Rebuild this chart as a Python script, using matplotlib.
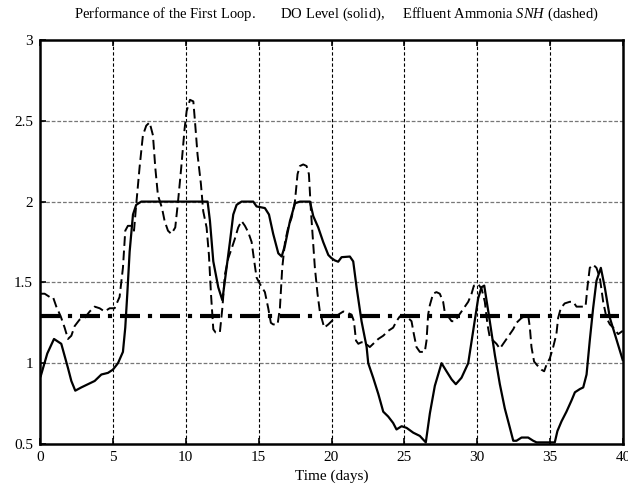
import matplotlib
matplotlib.use("Agg")
import matplotlib.pyplot as plt

plt.rcParams['font.family'] = ['Liberation Serif', 'DejaVu Serif']
plt.rcParams['mathtext.fontset'] = 'custom'
plt.rcParams['mathtext.rm'] = 'Liberation Serif'
plt.rcParams['mathtext.it'] = 'Liberation Serif:italic'

# DO level (solid)
do_t = [0.05, 0.5, 0.96, 1.46, 1.92, 2.15, 2.42, 2.83, 3.29, 3.75, 4.21, 4.66, 5.0, 5.35,
        5.69, 5.85, 5.99, 6.15, 6.38, 6.6, 6.95, 11.5, 11.66, 11.89, 12.23, 12.51, 12.8,
        13.03, 13.26, 13.49, 13.83, 14.63, 14.86, 15.43, 15.71, 16.0, 16.35, 16.58, 16.81,
        17.15, 17.5, 17.84, 18.52, 18.75, 19.09, 19.43, 19.78, 20.0, 20.23, 20.46, 20.69,
        21.26, 21.49, 21.72, 22.06, 22.41, 22.52, 22.86, 23.21, 23.55, 23.89, 24.23, 24.46,
        24.81, 25.15, 25.61, 26.06, 26.47, 26.75, 27.09, 27.55, 27.89, 28.24, 28.53, 28.92,
        29.38, 29.72, 30.06, 30.29, 30.48, 30.86, 31.21, 31.55, 31.89, 32.24, 32.47, 32.69,
        33.04, 33.49, 33.84, 34.07, 34.98, 35.32, 35.5, 35.78, 36.12, 36.47, 36.7, 37.04,
        37.27, 37.5, 37.72, 37.95, 38.18, 38.48, 38.75, 39.1, 39.44, 39.71, 39.98]
do_v = [0.92, 1.06, 1.15, 1.12, 0.97, 0.89, 0.83, 0.85, 0.87, 0.89, 0.93, 0.94, 0.96, 1.0,
        1.07, 1.22, 1.43, 1.69, 1.92, 1.98, 2.0, 2.0, 1.88, 1.63, 1.47, 1.39, 1.59,
        1.75, 1.92, 1.98, 2.0, 2.0, 1.97, 1.96, 1.92, 1.80, 1.68, 1.66, 1.73,
        1.88, 1.99, 2.0, 2.0, 1.91, 1.84, 1.75, 1.67, 1.65, 1.636, 1.628, 1.656,
        1.66, 1.63, 1.47, 1.26, 1.10, 1.0, 0.91, 0.81, 0.70, 0.67, 0.63, 0.59,
        0.61, 0.60, 0.57, 0.55, 0.51, 0.69, 0.86, 1.0, 0.95, 0.90, 0.87, 0.91,
        1.0, 1.20, 1.40, 1.47, 1.48, 1.26, 1.05, 0.87, 0.72, 0.60, 0.52, 0.52,
        0.54, 0.54, 0.52, 0.51, 0.51, 0.51, 0.58, 0.64, 0.70, 0.77, 0.82, 0.84,
        0.85, 0.93, 1.14, 1.34, 1.51, 1.59, 1.47, 1.28, 1.18, 1.10, 1.02]

# Effluent ammonia SNH (dashed)
snh_t = [0.05, 0.32, 0.66, 0.89, 1.12, 1.42, 1.69, 1.92, 2.15, 2.38, 2.72, 3.06, 3.41, 3.75,
         4.09, 4.43, 4.78, 5.12, 5.46, 5.69, 5.85, 6.03, 6.26, 6.45, 6.6, 6.83, 7.06, 7.29,
         7.52, 7.75, 7.91, 8.09, 8.37, 8.55, 8.78, 9.01, 9.28, 9.47, 9.69, 9.92, 10.06,
         10.29, 10.52, 10.63, 10.81, 11.04, 11.2, 11.43, 11.59, 11.73, 11.89, 12.05, 12.34,
         12.51, 12.69, 12.92, 13.15, 13.37, 13.6, 13.83, 14.06, 14.29, 14.52, 14.7, 14.86,
         15.09, 15.43, 15.66, 15.84, 16.0, 16.3, 16.46, 16.62, 16.81, 17.03, 17.26, 17.49,
         17.67, 17.83, 18.06, 18.29, 18.45, 18.59, 18.7, 18.86, 19.04, 19.2, 19.5, 19.78,
         20.12, 20.46, 20.81, 21.15, 21.38, 21.54, 21.68, 21.84, 22.06, 22.36, 22.63, 22.86,
         23.21, 23.55, 23.89, 24.23, 24.46, 24.69, 24.92, 25.26, 25.49, 25.65, 25.83, 26.06,
         26.4, 26.52, 26.63, 26.75, 26.97, 27.2, 27.43, 27.66, 27.78, 28.0, 28.24, 28.47,
         28.69, 28.92, 29.15, 29.38, 29.61, 29.77, 30.06, 30.3, 30.52, 30.7, 30.86, 31.09,
         31.32, 31.55, 31.78, 32.01, 32.24, 32.47, 32.69, 33.04, 33.26, 33.49, 33.61, 33.72,
         33.9, 34.18, 34.4, 34.59, 34.75, 34.98, 35.21, 35.43, 35.55, 35.73, 36.0, 36.35,
         36.58, 36.81, 37.15, 37.43, 37.56, 37.72, 37.95, 38.18, 38.41, 38.64, 38.87, 39.1,
         39.33, 39.67, 39.98]
snh_v = [1.43, 1.43, 1.41, 1.41, 1.35, 1.29, 1.22, 1.15, 1.17, 1.23, 1.27, 1.28, 1.32, 1.35,
         1.34, 1.32, 1.34, 1.34, 1.41, 1.59, 1.82, 1.85, 1.85, 1.82, 1.98, 2.21, 2.41, 2.47,
         2.49, 2.41, 2.21, 2.04, 1.96, 1.88, 1.82, 1.80, 1.84, 2.0, 2.21, 2.45, 2.56,
         2.63, 2.62, 2.50, 2.29, 2.11, 1.94, 1.84, 1.67, 1.43, 1.21, 1.19, 1.19,
         1.34, 1.55, 1.65, 1.71, 1.77, 1.84, 1.88, 1.85, 1.81, 1.75, 1.63, 1.53,
         1.49, 1.44, 1.34, 1.25, 1.24, 1.24, 1.34, 1.59, 1.75, 1.84, 1.90, 2.0,
         2.17, 2.22, 2.23, 2.22, 2.17, 1.94, 1.80, 1.59, 1.43, 1.32, 1.22, 1.24,
         1.27, 1.30, 1.32, 1.31, 1.30, 1.26, 1.14, 1.12, 1.13, 1.12, 1.10, 1.12,
         1.15, 1.17, 1.20, 1.22, 1.26, 1.29, 1.29, 1.28, 1.26, 1.18, 1.10, 1.07,
         1.07, 1.14, 1.30, 1.36, 1.43, 1.44, 1.43, 1.38, 1.31, 1.29, 1.26, 1.26,
         1.29, 1.32, 1.35, 1.38, 1.43, 1.48, 1.49, 1.46, 1.38, 1.24, 1.16, 1.14,
         1.12, 1.09, 1.12, 1.15, 1.18, 1.21, 1.25, 1.28, 1.29, 1.30, 1.22, 1.10,
         1.01, 0.98, 0.96, 0.95, 0.99, 1.03, 1.10, 1.18, 1.28, 1.34, 1.37, 1.38,
         1.38, 1.35, 1.35, 1.35, 1.47, 1.59, 1.61, 1.59, 1.53, 1.38, 1.28, 1.24,
         1.22, 1.18, 1.20]

# Setpoint (dash-dot)
sp_t = [0.0, 39.7]
sp_v = [1.29, 1.29]

x_ticks = [0, 5, 10, 15, 20, 25, 30, 35, 40]
x_labels = ['0', '5', '10', '15', '20', '25', '30', '35', '40']
y_ticks = [0.5, 1, 1.5, 2, 2.5, 3]
y_labels = ['0.5', '1', '1.5', '2', '2.5', '3']

fig = plt.figure(figsize=(6.28, 4.88), dpi=100)
ax = fig.add_axes([40/628, 1 - 444/488, 583/628, 404/488])

ax.set_xlim(0, 40)
ax.set_ylim(0.5, 3)

for xv in x_ticks[1:-1]:
    ax.axvline(xv, color='black', lw=0.8, dashes=(3, 2), zorder=1)
for yv in y_ticks[1:-1]:
    ax.axhline(yv, color='#777777', lw=0.9, dashes=(3, 1.5), zorder=1)

ax.plot(sp_t, sp_v, color='black', lw=3, dashes=(4.8, 1.9, 1.0, 1.9), zorder=2)
ax.plot(snh_t, snh_v, color='black', lw=1.4, dashes=(5.0, 2.4), zorder=3)
ax.plot(do_t, do_v, color='black', lw=1.6, zorder=4)

ax.set_xticks(x_ticks)
ax.set_xticklabels(x_labels, fontsize=11)
ax.set_yticks(y_ticks)
ax.set_yticklabels(y_labels, fontsize=11)
ax.tick_params(direction='in', length=4, width=1.2, top=True, right=False, pad=5)
for s in ax.spines.values():
    s.set_linewidth(1.8)

ax.set_xlabel('Time (days)', fontsize=11, labelpad=4)
fig.text(0.535, 0.97,
         r'Performance of the First Loop.       DO Level (solid),     Effluent Ammonia $\mathit{SNH}$ (dashed)',
         ha='center', va='center', fontsize=10.5)

fig.savefig('out.png', dpi=100)
